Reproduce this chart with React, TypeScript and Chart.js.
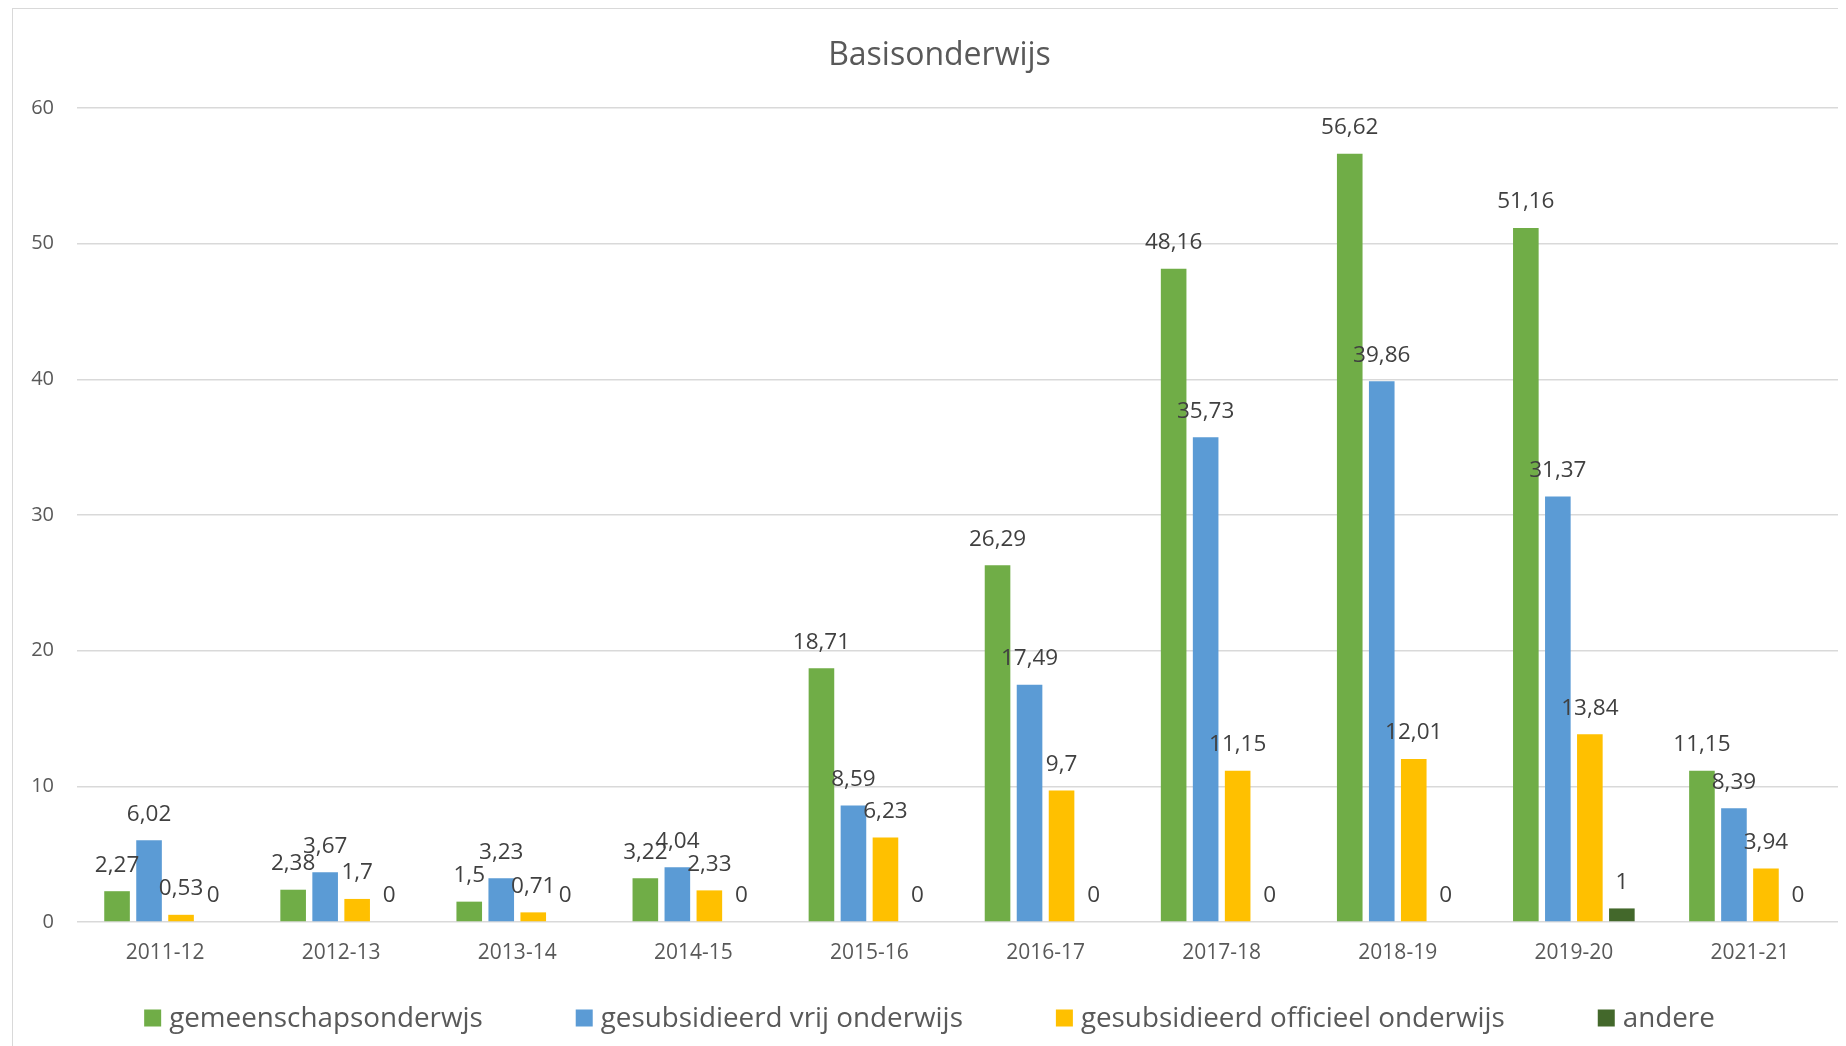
import React, { useEffect, useRef } from "react";
import { Chart, registerables } from "chart.js";

Chart.register(...registerables);

const categories = ["2011-12", "2012-13", "2013-14", "2014-15", "2015-16", "2016-17", "2017-18", "2018-19", "2019-20", "2021-21"];
const gemeenschapsonderwijs = [2.27, 2.38, 1.5, 3.22, 18.71, 26.29, 48.16, 56.62, 51.16, 11.15];
const vrijOnderwijs = [6.02, 3.67, 3.23, 4.04, 8.59, 17.49, 35.73, 39.86, 31.37, 8.39];
const officieelOnderwijs = [0.53, 1.7, 0.71, 2.33, 6.23, 9.7, 11.15, 12.01, 13.84, 3.94];
const andere = [0, 0, 0, 0, 0, 0, 0, 0, 1, 0];
const seriesNames = ["gemeenschapsonderwjs", "gesubsidieerd vrij onderwijs", "gesubsidieerd officieel onderwijs", "andere"];
const seriesColors = ["#70AD47", "#5B9BD5", "#FFC000", "#43682B"];
const yTicks = [0, 10, 20, 30, 40, 50, 60];
const chartTitle = "Basisonderwijs";

const FONT = "'Open Sans', 'Noto Sans', sans-serif";

const fmt = (v: number) => String(v).replace(".", ",");

const valueLabels = {
  id: "valueLabels",
  afterDatasetsDraw(chart: any) {
    const ctx = chart.ctx;
    ctx.save();
    ctx.font = `22.5px ${FONT}`;
    ctx.fillStyle = "#404040";
    ctx.textAlign = "center";
    ctx.textBaseline = "middle";
    chart.data.datasets.forEach((ds: any, i: number) => {
      const meta = chart.getDatasetMeta(i);
      meta.data.forEach((el: any, j: number) => {
        ctx.fillText(fmt(ds.data[j]), el.x, el.y - 26);
      });
    });
    ctx.restore();
  },
};

const titleDrawer = {
  id: "titleDrawer",
  afterDraw(chart: any) {
    const ctx = chart.ctx;
    ctx.save();
    ctx.font = `32px ${FONT}`;
    ctx.fillStyle = "#595959";
    ctx.textAlign = "center";
    ctx.textBaseline = "middle";
    ctx.fillText(chartTitle, chart.width / 2 + 10, 46.5);
    ctx.restore();
  },
};

const customLegend = {
  id: "customLegend",
  afterDraw(chart: any) {
    const ctx = chart.ctx;
    ctx.save();
    ctx.font = `27.8px ${FONT}`;
    ctx.textBaseline = "middle";
    ctx.textAlign = "left";
    const box = 17;
    const gapText = 8;
    const gapItem = 93;
    const items = chart.data.datasets.map((ds: any) => ({
      text: ds.label,
      color: ds.backgroundColor,
      w: ctx.measureText(ds.label).width,
    }));
    const total = items.reduce((s: number, it: any) => s + box + gapText + it.w, 0) + gapItem * (items.length - 1);
    let x = (chart.width - total) / 2;
    const y = chart.scales.x.bottom + 54;
    items.forEach((it: any) => {
      ctx.fillStyle = it.color;
      ctx.fillRect(x, y - box / 2, box, box);
      ctx.fillStyle = "#595959";
      ctx.fillText(it.text, x + box + gapText, y + 1);
      x += box + gapText + it.w + gapItem;
    });
    ctx.restore();
  },
};

export default function App() {
  const ref = useRef<HTMLCanvasElement | null>(null);

  useEffect(() => {
    document.documentElement.style.overflow = "hidden";
    document.body.style.overflow = "hidden";
    const canvas = ref.current;
    if (!canvas) return;
    const data = [gemeenschapsonderwijs, vrijOnderwijs, officieelOnderwijs, andere];
    const chart = new Chart(canvas, {
      type: "bar",
      data: {
        labels: categories,
        datasets: data.map((d, i) => ({
          label: seriesNames[i],
          data: d,
          backgroundColor: seriesColors[i],
          borderWidth: 0,
          categoryPercentage: 0.727,
          barPercentage: 0.8,
        })),
      },
      options: {
        responsive: false,
        animation: false,
        devicePixelRatio: 1,
        layout: { padding: { left: 0, right: 8, top: 99, bottom: 82 } },
        plugins: {
          legend: { display: false },
          tooltip: { enabled: false },
          title: { display: false },
        },
        scales: {
          x: {
            grid: { display: false, drawTicks: false },
            border: { display: false },
            ticks: {
              color: "#595959",
              font: { family: FONT, size: 21 },
              padding: 18,
              maxRotation: 0,
              autoSkip: false,
            },
            afterFit(scale: any) {
              scale.height = 42;
            },
          },
          y: {
            min: 0,
            max: 60,
            afterBuildTicks(scale: any) {
              scale.ticks = yTicks.map((v) => ({ value: v }));
            },
            grid: { color: "#D9D9D9", lineWidth: 1.5, drawTicks: false },
            border: { display: false },
            ticks: {
              color: "#595959",
              font: { family: FONT, size: 20 },
              padding: 23,
            },
            afterFit(scale: any) {
              scale.width = 64;
            },
          },
        },
      },
      plugins: [valueLabels, titleDrawer, customLegend],
    });
    return () => chart.destroy();
  }, []);

  return (
    <div
      style={{
        marginLeft: 4,
        width: 1900,
        height: 1100,
        border: "1px solid #D9D9D9",
        background: "#fff",
      }}
    >
      <canvas ref={ref} width={1833} height={1037} style={{ display: "block" }} />
    </div>
  );
}
